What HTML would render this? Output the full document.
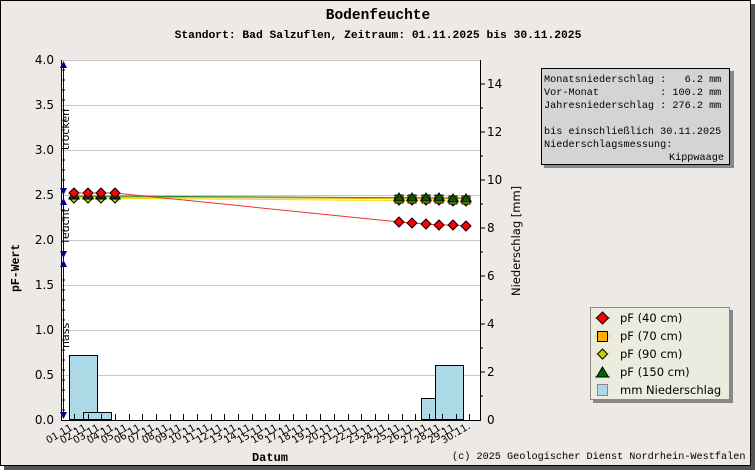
<!DOCTYPE html><html><head><style>body{margin:0;width:755px;height:470px;overflow:hidden;background:#fff}</style></head><body>
<svg width="755" height="470" xmlns="http://www.w3.org/2000/svg" font-family="DejaVu Sans, sans-serif">
<defs>
<path id="dr" d="M0 -5l5 5-5 5-5-5z" fill="#f00" stroke="#000"/>
<path id="dy" d="M0 -5l5 5-5 5-5-5z" fill="#cc0" stroke="#000"/>
<path id="tg" d="M0 -5l5 8h-10z" fill="#006400" stroke="#000"/>
<rect id="sq" x="-4" y="-4" width="8" height="8" fill="#ffb000" stroke="#000"/>
</defs>
<rect x="4" y="4" width="751" height="466" fill="#555"/>
<rect x="0.5" y="0.5" width="750" height="465" fill="#ece9e6" stroke="#000" stroke-width="1"/>
<text x="378" y="19" text-anchor="middle" font-family="Liberation Mono, monospace" font-weight="bold" font-size="14.5">Bodenfeuchte</text>
<text x="378" y="38" text-anchor="middle" font-family="Liberation Mono, monospace" font-weight="bold" font-size="11.3">Standort: Bad Salzuflen, Zeitraum: 01.11.2025 bis 30.11.2025</text>
<rect x="61" y="60" width="419" height="360" fill="#fff"/>
<g stroke="#c8c8c8" stroke-width="1">
<line x1="61" x2="480" y1="60.5" y2="60.5"/><line x1="61" x2="480" y1="105.5" y2="105.5"/><line x1="61" x2="480" y1="150.5" y2="150.5"/><line x1="61" x2="480" y1="195.5" y2="195.5"/><line x1="61" x2="480" y1="240.5" y2="240.5"/><line x1="61" x2="480" y1="285.5" y2="285.5"/><line x1="61" x2="480" y1="330.5" y2="330.5"/><line x1="61" x2="480" y1="375.5" y2="375.5"/>
</g>
<g fill="#add8e6" stroke="#000">
<rect x="69.5" y="355.5" width="28" height="64"/>
<rect x="83.5" y="412.5" width="28" height="7"/>
<rect x="421.5" y="398.5" width="14" height="21"/>
<rect x="435.5" y="365.5" width="28" height="54"/>
</g>
<g stroke="#000"><line x1="61.5" y1="60" x2="61.5" y2="421"/><line x1="61" y1="420.5" x2="480" y2="420.5"/><line x1="480.5" y1="60" x2="480.5" y2="421"/></g>
<path stroke="#000" d="M74.5 420v-6M88.5 420v-6M101.5 420v-6M115.5 420v-6M129.5 420v-6M142.5 420v-6M156.5 420v-6M170.5 420v-6M183.5 420v-6M197.5 420v-6M211.5 420v-6M224.5 420v-6M238.5 420v-6M252.5 420v-6M265.5 420v-6M279.5 420v-6M293.5 420v-6M306.5 420v-6M320.5 420v-6M334.5 420v-6M348.5 420v-6M361.5 420v-6M375.5 420v-6M388.5 420v-6M402.5 420v-6M415.5 420v-6M429.5 420v-6M442.5 420v-6M456.5 420v-6M469.5 420v-6"/>
<line x1="63.5" y1="62" x2="63.5" y2="418" stroke="#00008b"/>
<path stroke="#000" d="M61 70h4M61 80h4M61 90h4M61 100h4M61 110h4M61 120h4M61 130h4M61 140h4M61 160h4M61 170h4M61 180h4M61 210h4M61 220h4M61 230h4M61 280h4M61 290h4M61 300h4M61 310h4M61 320h4M61 340h4M61 350h4M61 360h4M61 370h4M61 380h4M61 390h4M61 400h4M61 410h4"/>
<g fill="#00008b"><path d="M60 68 L67 68 L63.5 61Z"/><path d="M60 188 L67 188 L63.5 195Z"/><path d="M60 205 L67 205 L63.5 198Z"/><path d="M60 251 L67 251 L63.5 258Z"/><path d="M60 267 L67 267 L63.5 260Z"/><path d="M60 412 L67 412 L63.5 419Z"/></g>
<g font-size="11" fill="#000"><text transform="translate(69,150) rotate(-90)">trocken</text><text transform="translate(69,243) rotate(-90)">feucht</text><text transform="translate(69,348) rotate(-90)">nass</text></g>
<g font-size="12" text-anchor="end"><text x="54" y="64">4.0</text><text x="54" y="109">3.5</text><text x="54" y="154">3.0</text><text x="54" y="199">2.5</text><text x="54" y="244">2.0</text><text x="54" y="289">1.5</text><text x="54" y="334">1.0</text><text x="54" y="379">0.5</text><text x="54" y="424">0.0</text></g>
<g font-size="12"><text x="487" y="88">14</text><text x="487" y="136">12</text><text x="487" y="184">10</text><text x="487" y="232">8</text><text x="487" y="280">6</text><text x="487" y="328">4</text><text x="487" y="376">2</text><text x="487" y="424">0</text></g>
<g stroke="#000"><path d="M480 84h5M480 108h3M480 132h5M480 156h3M480 180h5M480 204h3M480 228h5M480 252h3M480 276h5M480 300h3M480 324h5M480 348h3M480 372h5M480 396h3"/></g>
<text transform="translate(520,296) rotate(-90)" font-size="11.5">Niederschlag [mm]</text>
<text transform="translate(19,292) rotate(-90)" font-size="11.5" font-weight="bold" font-family="Liberation Mono, monospace">pF-Wert</text>
<polyline points="74,198 466,201" stroke="#e4e400" fill="none"/>
<polyline points="74,197 466,199" stroke="#ffb000" fill="none"/>
<polyline points="74,196 466,198" stroke="#006400" fill="none" opacity="0.8"/>
<polyline points="74,193 88,193 101,193 115,193 399,222 412,223 426,224 439,225 453,225 466,226" stroke="#e33" fill="none"/>
<g>
<use href="#dy" x="74" y="198"/><use href="#tg" x="74" y="196"/><use href="#dr" x="74" y="193"/>
<use href="#dy" x="88" y="198"/><use href="#tg" x="88" y="196"/><use href="#dr" x="88" y="193"/>
<use href="#dy" x="101" y="198"/><use href="#tg" x="101" y="196"/><use href="#dr" x="101" y="193"/>
<use href="#dy" x="115" y="198"/><use href="#tg" x="115" y="196"/><use href="#dr" x="115" y="193"/>
<use href="#dy" x="399" y="200"/><use href="#sq" x="399" y="199"/><use href="#tg" x="399" y="198"/><use href="#dr" x="399" y="222"/>
<use href="#dy" x="412" y="200"/><use href="#sq" x="412" y="199"/><use href="#tg" x="412" y="198"/><use href="#dr" x="412" y="223"/>
<use href="#dy" x="426" y="200"/><use href="#sq" x="426" y="199"/><use href="#tg" x="426" y="198"/><use href="#dr" x="426" y="224"/>
<use href="#dy" x="439" y="200"/><use href="#sq" x="439" y="199"/><use href="#tg" x="439" y="198"/><use href="#dr" x="439" y="225"/>
<use href="#dy" x="453" y="201"/><use href="#sq" x="453" y="200"/><use href="#tg" x="453" y="199"/><use href="#dr" x="453" y="225"/>
<use href="#dy" x="466" y="201"/><use href="#sq" x="466" y="200"/><use href="#tg" x="466" y="199"/><use href="#dr" x="466" y="226"/>
</g>
<g font-size="10" text-anchor="end">
<text transform="translate(76,428) rotate(-30)">01.11.</text><text transform="translate(90,428) rotate(-30)">02.11.</text><text transform="translate(103,428) rotate(-30)">03.11.</text><text transform="translate(117,428) rotate(-30)">04.11.</text><text transform="translate(131,428) rotate(-30)">05.11.</text><text transform="translate(144,428) rotate(-30)">06.11.</text><text transform="translate(158,428) rotate(-30)">07.11.</text><text transform="translate(172,428) rotate(-30)">08.11.</text><text transform="translate(185,428) rotate(-30)">09.11.</text><text transform="translate(199,428) rotate(-30)">10.11.</text><text transform="translate(213,428) rotate(-30)">11.11.</text><text transform="translate(226,428) rotate(-30)">12.11.</text><text transform="translate(240,428) rotate(-30)">13.11.</text><text transform="translate(254,428) rotate(-30)">14.11.</text><text transform="translate(267,428) rotate(-30)">15.11.</text><text transform="translate(281,428) rotate(-30)">16.11.</text><text transform="translate(295,428) rotate(-30)">17.11.</text><text transform="translate(308,428) rotate(-30)">18.11.</text><text transform="translate(322,428) rotate(-30)">19.11.</text><text transform="translate(336,428) rotate(-30)">20.11.</text><text transform="translate(350,428) rotate(-30)">21.11.</text><text transform="translate(363,428) rotate(-30)">22.11.</text><text transform="translate(377,428) rotate(-30)">23.11.</text><text transform="translate(390,428) rotate(-30)">24.11.</text><text transform="translate(404,428) rotate(-30)">25.11.</text><text transform="translate(417,428) rotate(-30)">26.11.</text><text transform="translate(431,428) rotate(-30)">27.11.</text><text transform="translate(444,428) rotate(-30)">28.11.</text><text transform="translate(458,428) rotate(-30)">29.11.</text><text transform="translate(471,428) rotate(-30)">30.11.</text>
</g>
<text x="270" y="461" text-anchor="middle" font-family="Liberation Mono, monospace" font-weight="bold" font-size="12">Datum</text>
<text x="452" y="459" font-family="Liberation Mono, monospace" font-size="10.2">(c) 2025 Geologischer Dienst Nordrhein-Westfalen</text>
<rect x="544" y="71" width="190" height="97" fill="#888"/>
<rect x="541.5" y="68.5" width="188" height="96" fill="#d4d4d4" stroke="#000"/>
<g font-family="Liberation Mono, monospace" font-size="10.2"><text x="544" y="82" xml:space="preserve">Monatsniederschlag :   6.2 mm</text><text x="544" y="95" xml:space="preserve">Vor-Monat          : 100.2 mm</text><text x="544" y="108" xml:space="preserve">Jahresniederschlag : 276.2 mm</text><text x="544" y="134">bis einschließlich 30.11.2025</text><text x="544" y="147">Niederschlagsmessung:</text><text x="724" y="160" text-anchor="end">Kippwaage</text></g>
<rect x="593" y="310" width="140" height="93" fill="#888"/>
<rect x="590.5" y="307.5" width="139" height="92" fill="#ecebe0" stroke="#888"/>
<g font-size="11.5"><text x="620" y="322">pF (40 cm)</text><text x="620" y="340">pF (70 cm)</text><text x="620" y="358">pF (90 cm)</text><text x="620" y="376">pF (150 cm)</text><text x="620" y="394">mm  Niederschlag</text></g>
<line x1="595" x2="610" y1="318" y2="318" stroke="#e33"/><path d="M602.5 312l6 6-6 6-6-6z" fill="#f00" stroke="#000"/>
<line x1="595" x2="610" y1="336" y2="336" stroke="#ffb000"/><rect x="597.5" y="331.5" width="10" height="10" fill="#ffb000" stroke="#000"/>
<line x1="595" x2="610" y1="354" y2="354" stroke="#e4e400"/><path d="M602.5 349l5 5-5 5-5-5z" fill="#cc0" stroke="#000"/>
<line x1="595" x2="610" y1="377" y2="377" stroke="#006400"/><path d="M602.5 367l6 10h-12z" fill="#006400" stroke="#000"/>
<rect x="597.5" y="384.5" width="10" height="11" fill="#add8e6" stroke="#888"/>
</svg></body></html>
